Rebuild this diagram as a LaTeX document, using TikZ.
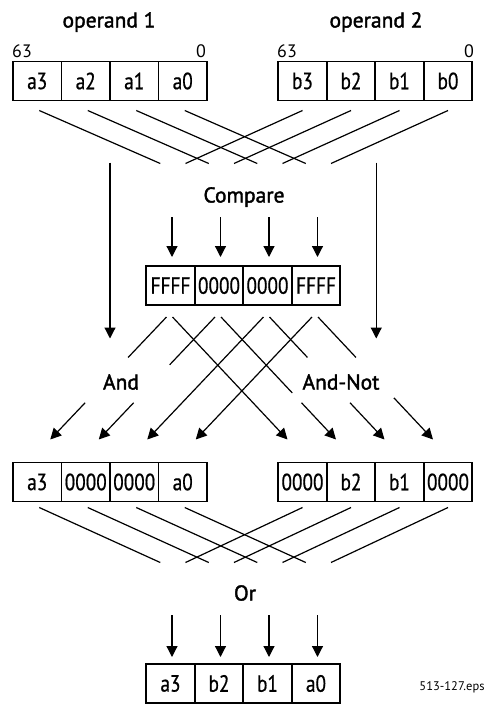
\documentclass[tikz,border=0pt]{standalone}
\usepackage{fontspec}
\setmainfont{PT Sans}[FakeStretch=0.82, FakeBold=0.6]
\newfontfamily\labelfont{PT Sans}[FakeBold=1.8]
\newfontfamily\plainfont{PT Sans}
\usetikzlibrary{positioning,arrows.meta,calc}

\tikzset{
  cell/.style={draw, line width=1.8pt, minimum width=48.5pt, minimum height=39pt,
    inner sep=0pt, outer sep=0pt, font=\fontsize{23.5}{26}\selectfont},
  wire/.style={line width=1.2pt},
  arr/.style={wire, -{Triangle[length=11pt,width=11pt]}},
  oplabel/.style={font=\labelfont\fontsize{21.5}{24}\selectfont, inner sep=0pt},
  bitno/.style={font=\plainfont\fontsize{18}{20}\selectfont, inner sep=0pt},
}

\begin{document}
\begin{tikzpicture}[x=1pt, y=-1pt]
    \useasboundingbox (0,0) rectangle (484,704);

    % operands
    \node[oplabel] (opone) at (109,22) {operand 1};
    \node[oplabel] (optwo) at (376,22) {operand 2};
    \node[bitno] (hione) at (22,51.5) {63};
    \node[bitno] (loone) at (201,51.5) {0};
    \node[bitno] (hitwo) at (287,51.5) {63};
    \node[bitno] (lotwo) at (469,51.5) {0};

    \node[cell] (p1) at (37.25,81) {a3};
    \node[cell, right=0pt of p1] (p2) {a2};
    \node[cell, right=0pt of p2] (p3) {a1};
    \node[cell, right=0pt of p3] (p4) {a0};

    \node[cell] (q1) at (302.5,81) {b3};
    \node[cell, right=0pt of q1] (q2) {b2};
    \node[cell, right=0pt of q2] (q3) {b1};
    \node[cell, right=0pt of q3] (q4) {b0};

    % shuffle into compare
    \foreach \k in {1,...,4} {
        \draw[wire] ([xshift=2pt,yshift=-10pt]p\k.south) -- ++(121,53);
        \draw[wire] ([yshift=-10pt]q\k.south) -- ++(-117,53);
    }

    % operands straight down to And / And-Not
    \draw[arr] ([yshift=-62pt]p2.south east) -- ++(0,176);
    \draw[arr] ([xshift=1pt,yshift=-62pt]q2.south east) -- ++(0,176);

    % compare
    \node[oplabel] (cmp) at (244,197) {Compare};
    \node[cell] (c1) at (170.5,285.5) {FFFF};
    \node[cell, right=0pt of c1] (c2) {0000};
    \node[cell, right=0pt of c2] (c3) {0000};
    \node[cell, right=0pt of c3] (c4) {FFFF};
    \foreach \k in {1,...,4}
        \draw[arr] ([xshift=1.5pt,yshift=49pt]c\k.north) -- ([xshift=1.5pt,yshift=9pt]c\k.north);

    % And / And-Not
    \node[oplabel] (andop) at (121,382) {And};
    \node[oplabel] (andnot) at (341,382) {And-Not};

    \node[cell] (l1) at (37.25,482) {a3};
    \node[cell, right=0pt of l1] (l2) {0000};
    \node[cell, right=0pt of l2] (l3) {0000};
    \node[cell, right=0pt of l3] (l4) {a0};

    \node[cell] (r1) at (302.5,482) {0000};
    \node[cell, right=0pt of r1] (r2) {b2};
    \node[cell, right=0pt of r2] (r3) {b1};
    \node[cell, right=0pt of r3] (r4) {0000};

    % mask to the And side, gap where the labels sit
    \foreach \k/\s/\e in {1/0.33/0.70, 2/0.39/0.70, 3/0.5/0.5, 4/0.5/0.5} {
        \coordinate (cs) at ([xshift=-4pt,yshift=-12pt]c\k.south);
        \coordinate (ct) at ([xshift=13pt,yshift=23pt]l\k.north);
        \draw[wire] (cs) -- ($(cs)!\s!(ct)$);
        \draw[arr] ($(cs)!\e!(ct)$) -- (ct);
    }
    % mask to the And-Not side
    \foreach \k/\s/\e in {1/0.5/0.5, 2/0.62/0.70, 3/0.33/0.70, 4/0.33/0.66} {
        \coordinate (cs) at ([xshift=2pt,yshift=-12pt]c\k.south);
        \coordinate (ct) at ([xshift=-15pt,yshift=23pt]r\k.north);
        \draw[wire] (cs) -- ($(cs)!\s!(ct)$);
        \draw[arr] ($(cs)!\e!(ct)$) -- (ct);
    }

    % shuffle into or
    \foreach \k in {1,...,4} {
        \draw[wire] ([xshift=2pt,yshift=-6pt]l\k.south) -- ++(121,55);
        \draw[wire] ([yshift=-6pt]r\k.south) -- ++(-117,55);
    }

    % or
    \node[oplabel] (orop) at (245,593) {Or};
    \node[cell] (f1) at (170.5,683.5) {a3};
    \node[cell, right=0pt of f1] (f2) {b2};
    \node[cell, right=0pt of f2] (f3) {b1};
    \node[cell, right=0pt of f3] (f4) {a0};
    \foreach \k in {1,...,4}
        \draw[arr] ([xshift=1.5pt,yshift=49pt]f\k.north) -- ([xshift=1.5pt,yshift=7pt]f\k.north);

    \node[font=\plainfont\fontsize{12.5}{15}\selectfont, inner sep=0pt] (figid) at (452,687) {513-127.eps};
\end{tikzpicture}
\end{document}
